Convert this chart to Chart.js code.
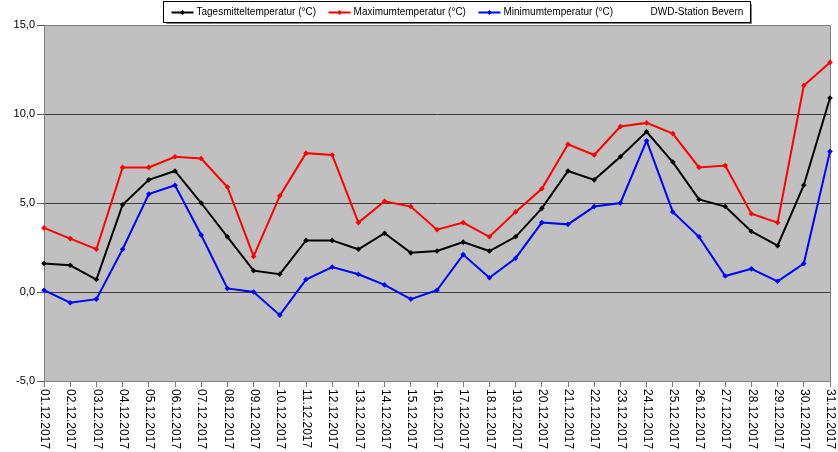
<!DOCTYPE html>
<html>
<head>
<meta charset="utf-8">
<script src="https://cdn.jsdelivr.net/npm/chart.js"></script>
<style>
  html, body { margin: 0; padding: 0; background: #fff; }
  #wrap { position: relative; width: 838px; height: 452px; }
</style>
</head>
<body>
<div id="wrap"><canvas id="chart"></canvas></div>
<script>
// Tage im Dezember 2017
const dates = [
  '01.12.2017','02.12.2017','03.12.2017','04.12.2017','05.12.2017','06.12.2017','07.12.2017',
  '08.12.2017','09.12.2017','10.12.2017','11.12.2017','12.12.2017','13.12.2017','14.12.2017',
  '15.12.2017','16.12.2017','17.12.2017','18.12.2017','19.12.2017','20.12.2017','21.12.2017',
  '22.12.2017','23.12.2017','24.12.2017','25.12.2017','26.12.2017','27.12.2017','28.12.2017',
  '29.12.2017','30.12.2017','31.12.2017'
];

const meanTemp = [1.6, 1.5, 0.7, 4.9, 6.3, 6.8, 5.0, 3.1, 1.2, 1.0, 2.9, 2.9, 2.4, 3.3, 2.2, 2.3,
                  2.8, 2.3, 3.1, 4.7, 6.8, 6.3, 7.6, 9.0, 7.3, 5.2, 4.8, 3.4, 2.6, 6.0, 10.9];
const maxTemp  = [3.6, 3.0, 2.4, 7.0, 7.0, 7.6, 7.5, 5.9, 2.0, 5.4, 7.8, 7.7, 3.9, 5.1, 4.8, 3.5,
                  3.9, 3.1, 4.5, 5.8, 8.3, 7.7, 9.3, 9.5, 8.9, 7.0, 7.1, 4.4, 3.9, 11.6, 12.9];
const minTemp  = [0.1, -0.6, -0.4, 2.4, 5.5, 6.0, 3.2, 0.2, 0.0, -1.3, 0.7, 1.4, 1.0, 0.4, -0.4, 0.1,
                  2.1, 0.8, 1.9, 3.9, 3.8, 4.8, 5.0, 8.5, 4.5, 3.1, 0.9, 1.3, 0.6, 1.6, 7.9];

const seriesLabels = ['Tagesmitteltemperatur (°C)', 'Maximumtemperatur (°C)', 'Minimumtemperatur (°C)'];
const stationLabel = 'DWD-Station Bevern';
const yMin = -5, yMax = 15, yStep = 5;

const COLORS = ['#000000', '#ff0000', '#0000ff'];
const FONT = 'Arial, "Liberation Sans", sans-serif';

// Grauer Plotbereich + Rahmen
const plotBg = {
  id: 'plotBg',
  beforeDraw(chart) {
    const { ctx, chartArea: a } = chart;
    ctx.save();
    ctx.fillStyle = '#c0c0c0';
    ctx.fillRect(a.left, a.top, a.right - a.left, a.bottom - a.top);
    ctx.restore();
  },
  beforeDatasetsDraw(chart) {
    const { ctx, chartArea: a } = chart;
    ctx.save();
    ctx.strokeStyle = '#808080';
    ctx.lineWidth = 1;
    ctx.beginPath();
    ctx.moveTo(Math.round(a.left) + 0.5, Math.round(a.top) + 0.5);
    ctx.lineTo(Math.round(a.right) + 0.5, Math.round(a.top) + 0.5);
    ctx.lineTo(Math.round(a.right) + 0.5, Math.round(a.bottom) + 0.5);
    ctx.stroke();
    ctx.restore();
  }
};

// Datumsbeschriftung, von oben nach unten gedreht
const xLabels = {
  id: 'xLabels',
  afterDraw(chart) {
    const { ctx } = chart;
    const xs = chart.scales.x;
    const y0 = chart.chartArea.bottom + 8;
    ctx.save();
    ctx.fillStyle = '#000';
    ctx.font = '12px ' + FONT;
    ctx.textAlign = 'left';
    ctx.textBaseline = 'middle';
    dates.forEach((d, i) => {
      const x = xs.getPixelForTick(i);
      ctx.save();
      ctx.translate(x + 0.5, y0);
      ctx.rotate(Math.PI / 2);
      ctx.fillText(d, 0, 0);
      ctx.restore();
    });
    ctx.restore();
  }
};

function drawMarker(ctx, x, y, color) {
  ctx.beginPath();
  ctx.moveTo(x, y - 2.5);
  ctx.lineTo(x + 2.5, y);
  ctx.lineTo(x, y + 2.5);
  ctx.lineTo(x - 2.5, y);
  ctx.closePath();
  ctx.fillStyle = color;
  ctx.fill();
}

// Legende im Excel-Stil mit Rahmen
const boxLegend = {
  id: 'boxLegend',
  afterDraw(chart) {
    const { ctx } = chart;
    ctx.save();
    ctx.font = '10px ' + FONT;
    const items = seriesLabels.map((t, i) => ({ text: t, color: COLORS[i] }))
      .concat([{ text: stationLabel, color: null }]);
    const left = 164, top = 2, h = 20;
    let x = left + 7.5;
    const pos = items.map(it => {
      const p = { x, w: ctx.measureText(it.text).width };
      x += 22 + 3 + p.w + 12.5;
      return p;
    });
    const right = Math.round(pos[3].x + 25 + pos[3].w + 7);
    // Schatten
    ctx.fillStyle = '#808080';
    ctx.fillRect(left + 2, top + h + 1, right - left, 1);
    ctx.fillRect(right + 1, top + 2, 1, h);
    ctx.fillStyle = '#fff';
    ctx.fillRect(left, top, right - left, h);
    ctx.strokeStyle = '#000';
    ctx.lineWidth = 1;
    ctx.strokeRect(left - 0.5, top - 0.5, right - left + 1, h + 1);
    const cy = top + h / 2 + 0.5;
    items.forEach((it, i) => {
      const p = pos[i];
      if (it.color) {
        ctx.strokeStyle = it.color;
        ctx.lineWidth = 2;
        ctx.beginPath();
        ctx.moveTo(p.x, cy);
        ctx.lineTo(p.x + 22, cy);
        ctx.stroke();
        drawMarker(ctx, p.x + 11, cy, it.color);
      }
      ctx.fillStyle = '#000';
      ctx.textAlign = 'left';
      ctx.textBaseline = 'middle';
      ctx.fillText(it.text, p.x + 25, cy);
    });
    ctx.restore();
  }
};

const ds = (label, data, color) => ({
  label, data,
  borderColor: color,
  backgroundColor: color,
  borderWidth: 2,
  pointStyle: 'rectRot',
  pointRadius: 2.8,
  pointBorderWidth: 0,
  pointHoverRadius: 3,
  tension: 0,
  clip: false
});

new Chart(document.getElementById('chart'), {
  type: 'line',
  data: {
    labels: dates,
    datasets: [
      ds(seriesLabels[0], meanTemp, COLORS[0]),
      ds(seriesLabels[1], maxTemp, COLORS[1]),
      ds(seriesLabels[2], minTemp, COLORS[2])
    ]
  },
  options: {
    responsive: true,
    maintainAspectRatio: false,
    animation: false,
    layout: { padding: { top: 25, right: 8, bottom: 0, left: 0 } },
    plugins: { legend: { display: false }, tooltip: { enabled: false } },
    scales: {
      x: {
        type: 'category',
        offset: false,
        grid: { display: true, drawOnChartArea: false, drawTicks: true, tickLength: 6, color: '#808080' },
        border: { display: true, color: '#808080', width: 1 },
        ticks: { display: false },
        afterFit: s => { s.height = 71; }
      },
      y: {
        min: yMin,
        max: yMax,
        grid: {
          color: c => (c.tick.value === yMin || c.tick.value === yMax) ? '#808080' : '#3a3a3a',
          tickColor: '#606060',
          tickLength: 7,
          lineWidth: 1
        },
        border: { display: true, color: '#808080', width: 1 },
        ticks: {
          stepSize: yStep,
          padding: 2,
          color: '#000',
          font: { family: FONT, size: 11 },
          callback: v => v.toFixed(1).replace('.', ',')
        },
        afterFit: s => { s.width = 44; }
      }
    }
  },
  plugins: [plotBg, xLabels, boxLegend]
});
</script>
</body>
</html>
